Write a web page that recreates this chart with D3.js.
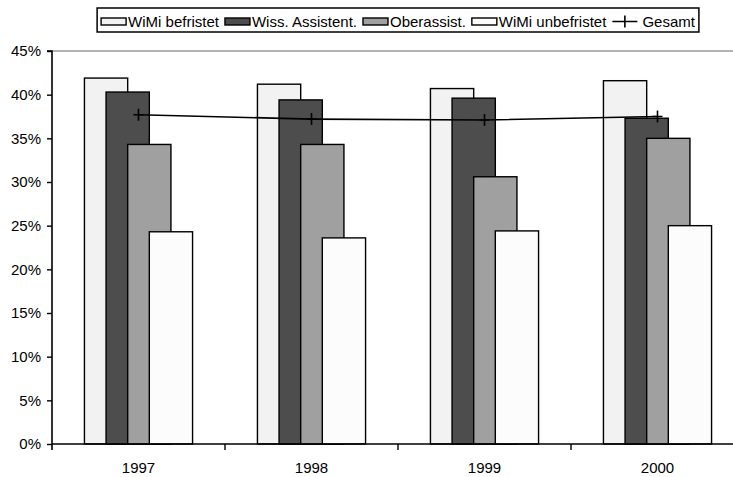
<!DOCTYPE html>
<html>
<head>
<meta charset="utf-8">
<script src="https://cdn.jsdelivr.net/npm/d3@7"></script>
<style>
  body { margin: 0; background: #fff; }
  svg { display: block; font-family: "Liberation Sans", Arial, sans-serif; }
</style>
</head>
<body>
<div id="chart"></div>
<script>
// data (percent)
var years = ['1997', '1998', '1999', '2000'];
var seriesNames = ['WiMi befristet', 'Wiss. Assistent.', 'Oberassist.', 'WiMi unbefristet'];
var wimiBefristet = [41.9, 41.2, 40.7, 41.6];
var wissAssistent = [40.3, 39.4, 39.6, 37.3];
var oberassist = [34.3, 34.3, 30.6, 35.0];
var wimiUnbefristet = [24.3, 23.6, 24.4, 25.0];
var gesamt = [37.7, 37.2, 37.1, 37.5];
var yTicks = [0, 5, 10, 15, 20, 25, 30, 35, 40, 45];

var fills = ['#f2f2f2', '#4d4d4d', '#a0a0a0', '#fcfcfc'];
var allSeries = [wimiBefristet, wissAssistent, oberassist, wimiUnbefristet];

var width = 733, height = 477;
var pLeft = 52, pRight = 744, pTop = 51, pBottom = 444;

var svg = d3.select('#chart').append('svg')
    .attr('width', width)
    .attr('height', height);

var x = d3.scaleBand().domain(years).range([pLeft, pRight]).padding(0);
var y = d3.scaleLinear().domain([0, 45]).range([pBottom, pTop]);

var bw = x.bandwidth() / 4;          // bar width (gap 150%, overlap 50%)
var pad = bw * 0.75;

// top gridline
svg.append('line')
    .attr('x1', pLeft).attr('x2', pRight)
    .attr('y1', y(45)).attr('y2', y(45))
    .attr('stroke', '#999').attr('stroke-width', 1.5);

// bars, one series after another so later ones lie on top
allSeries.forEach(function(vals, s){
  svg.append('g').selectAll('rect')
      .data(vals)
      .enter().append('rect')
      .attr('x', function(d, i){ return x(years[i]) + pad + s * bw / 2; })
      .attr('y', function(d){ return y(d); })
      .attr('width', bw)
      .attr('height', function(d){ return y(0) - y(d); })
      .attr('fill', fills[s])
      .attr('stroke', '#000')
      .attr('stroke-width', 1.4);
});

// Gesamt line
var line = d3.line()
    .x(function(d, i){ return x(years[i]) + x.bandwidth() / 2; })
    .y(function(d){ return y(d); });

svg.append('path')
    .datum(gesamt)
    .attr('d', line)
    .attr('fill', 'none')
    .attr('stroke', '#000')
    .attr('stroke-width', 1.6);

svg.append('g').selectAll('path')
    .data(gesamt)
    .enter().append('path')
    .attr('d', function(d, i){
      var cx = x(years[i]) + x.bandwidth() / 2, cy = y(d);
      return 'M' + (cx - 5) + ',' + cy + 'H' + (cx + 5) + 'M' + cx + ',' + (cy - 6) + 'V' + (cy + 6);
    })
    .attr('stroke', '#000')
    .attr('stroke-width', 1.6);

// y axis
var yAxis = svg.append('g')
    .attr('transform', 'translate(' + pLeft + ',0)')
    .call(d3.axisLeft(y).tickValues(yTicks).tickSize(5).tickPadding(6)
      .tickFormat(function(d){ return d + '%'; }));
yAxis.select('.domain').attr('stroke-width', 1.6).attr('d', 'M-5,' + pTop + 'H0V' + (pBottom + 6));
yAxis.selectAll('line').attr('stroke-width', 1.4);
yAxis.selectAll('text').style('font-size', '15px').attr('fill', '#000')
    .style('font-family', '"Liberation Sans", Arial, sans-serif');

// x axis
var xAxis = svg.append('g')
    .attr('transform', 'translate(0,' + pBottom + ')')
    .call(d3.axisBottom(x).tickSize(0).tickPadding(18));
xAxis.select('.domain').attr('stroke-width', 1.6).attr('d', 'M' + pLeft + ',0H' + pRight);
xAxis.selectAll('text').style('font-size', '15px').attr('fill', '#000')
    .style('font-family', '"Liberation Sans", Arial, sans-serif');

svg.append('g').selectAll('line')
    .data(years.slice(1).concat(['end']))
    .enter().append('line')
    .attr('x1', function(d, i){ return pLeft + (i + 1) * x.bandwidth(); })
    .attr('x2', function(d, i){ return pLeft + (i + 1) * x.bandwidth(); })
    .attr('y1', pBottom).attr('y2', pBottom + 6)
    .attr('stroke', '#000').attr('stroke-width', 1.4);

// legend
var legend = svg.append('g');
var box = legend.append('rect')
    .attr('fill', '#fff').attr('stroke', '#000').attr('stroke-width', 1.5);

var lx = 0;
var items = seriesNames.concat(['Gesamt']);
items.forEach(function(name, i){
  var g = legend.append('g').attr('transform', 'translate(' + lx + ',0)');
  if (i < 4) {
    g.append('rect')
        .attr('x', 0).attr('y', 18).attr('width', 25).attr('height', 7)
        .attr('fill', fills[i]).attr('stroke', '#000').attr('stroke-width', 1.4);
  } else {
    g.append('path')
        .attr('d', 'M0,21.5H25M12.5,15.5V27.5')
        .attr('stroke', '#000').attr('stroke-width', 1.6);
  }
  var t = g.append('text')
      .attr('x', i < 4 ? 27 : 30).attr('y', 27)
      .style('font-size', '15px')
      .text(name);
  lx += (i < 4 ? 27 : 30) + t.node().getComputedTextLength() + 6;
});
lx -= 6;

var legendLeft = (pLeft + pRight) / 2 - lx / 2;
legend.attr('transform', 'translate(' + legendLeft + ',0)');
box.attr('x', -4).attr('y', 8).attr('width', lx + 8).attr('height', 24);
</script>
</body>
</html>
